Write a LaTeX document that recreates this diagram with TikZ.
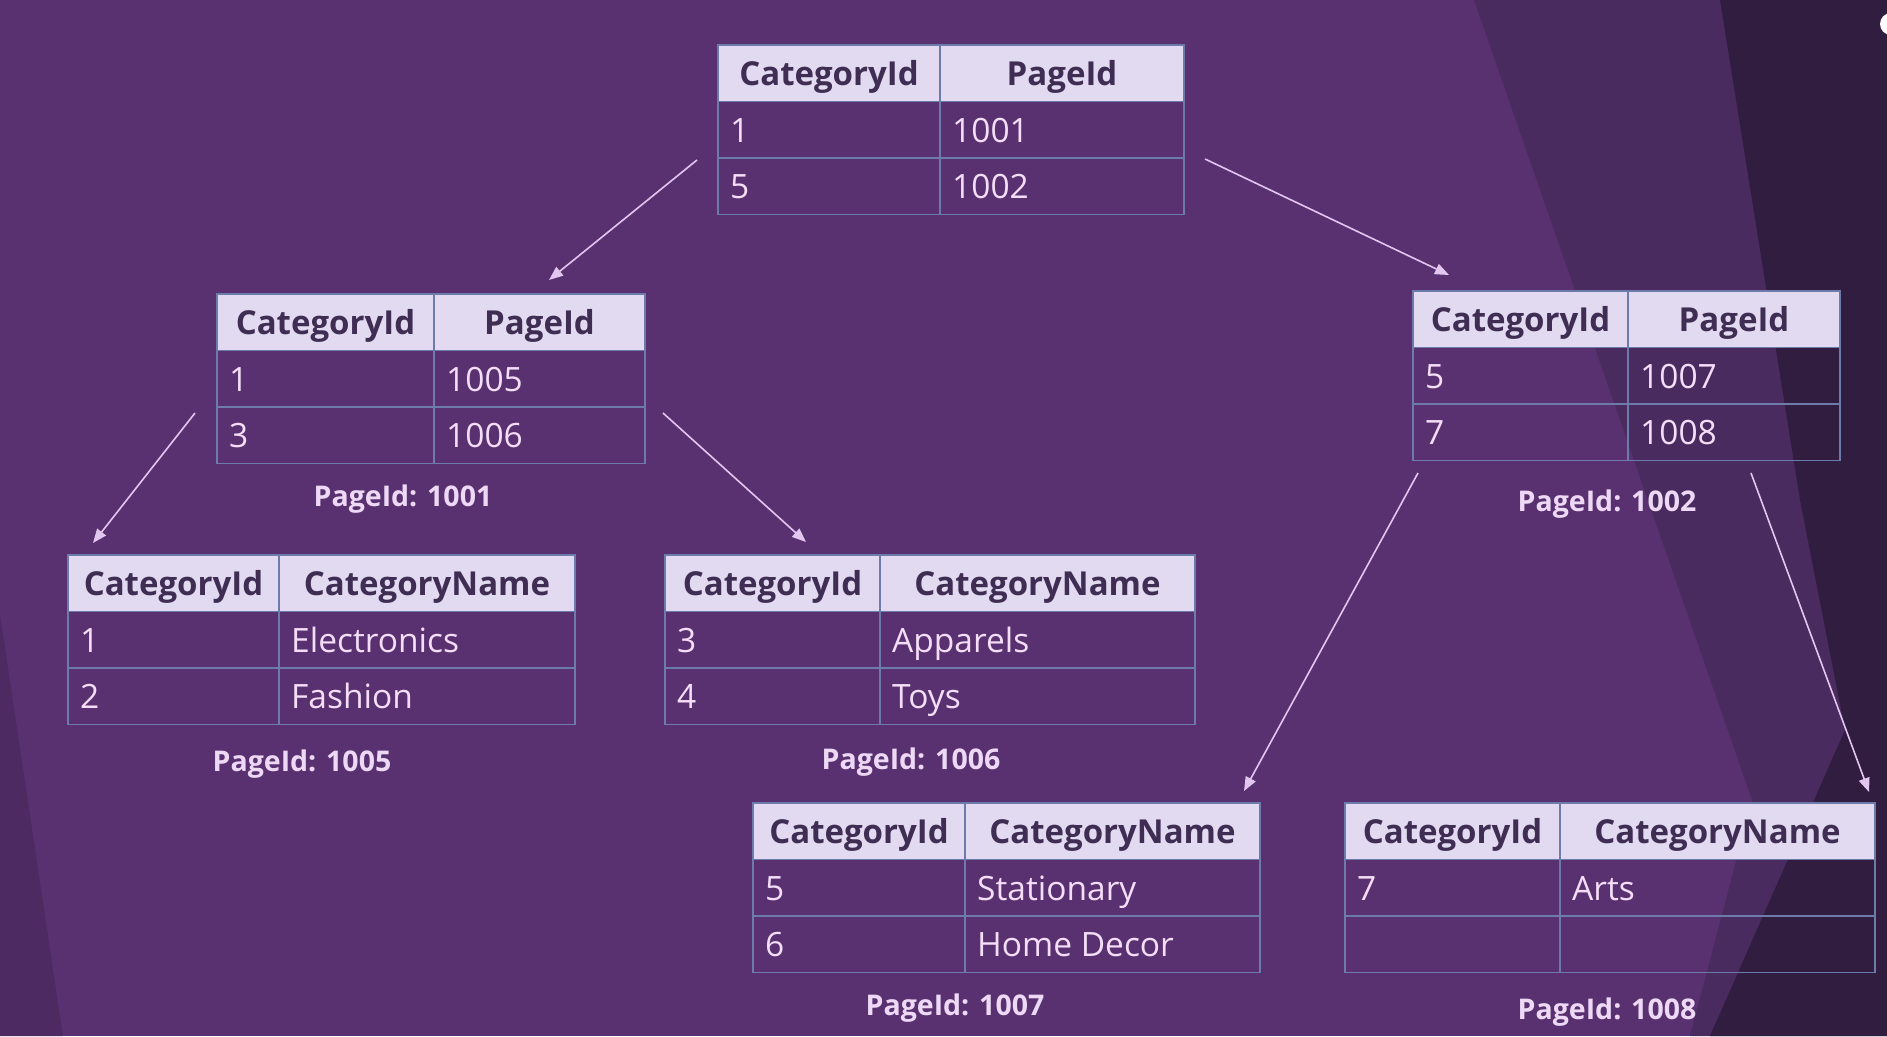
\documentclass[tikz,border=0pt]{standalone}
\usepackage{fontspec}
\setmainfont{Open Sans}
\usetikzlibrary{arrows.meta}
\definecolor{bgmain}{HTML}{5A3170}
\definecolor{bgmed}{HTML}{4A2B5F}
\definecolor{bgdark}{HTML}{301D3F}
\definecolor{bgleft}{HTML}{4E2A62}
\definecolor{hdfill}{HTML}{E2DAF0}
\definecolor{hdtext}{HTML}{3F2D54}
\definecolor{bodytext}{HTML}{F3DDF7}
\definecolor{lbltext}{HTML}{EDD9F5}
\definecolor{gridc}{HTML}{6D7BAA}
\definecolor{arrowc}{HTML}{E2C6F0}
\tikzset{
  gridln/.style={draw=gridc, line width=1.6pt},
  hdtxt/.style={font=\bfseries\fontsize{33}{38}\selectfont, text=hdtext, text height=23.5pt, text depth=0pt, inner sep=0pt, anchor=center},
  bodytxt/.style={font=\fontsize{33.5}{38}\selectfont, text=bodytext, text height=24pt, text depth=0pt, inner sep=0pt, anchor=west},
  lbl/.style={font=\bfseries\fontsize{28.5}{34}\selectfont, text=lbltext, text height=20.5pt, text depth=0pt, inner sep=0pt, anchor=center},
  arr/.style={draw=arrowc, line width=1.6pt, -{Triangle[length=14pt,width=11pt]}}
}
\newcommand\tbl[6]{% name, x1, xs, x2, ytop, second header
  \def\tn{#1}\def\tx{#2}\def\ts{#3}\def\ty{#5}%
  \fill[hdfill] (#2,#5) rectangle (#4,#5+56.5);
  \draw[gridln] (#2,#5) rectangle (#4,#5+169.5);
  \draw[gridln] (#2,#5+56.5) -- (#4,#5+56.5);
  \draw[gridln] (#2,#5+113) -- (#4,#5+113);
  \draw[gridln] (#3,#5) -- (#3,#5+169.5);
  \node[hdtxt] (#1-h1) at ({(#2+#3)/2},{#5+28.5}) {CategoryId};
  \node[hdtxt] (#1-h2) at ({(#3+#4)/2},{#5+28.5}) {#6};
}
\newcommand\rowa[2]{%
  \node[bodytxt] (\tn-a1) at ({\tx+12},{\ty+85}) {#1};
  \node[bodytxt] (\tn-b1) at ({\ts+12},{\ty+85}) {#2};
}
\newcommand\rowb[2]{%
  \node[bodytxt] (\tn-a2) at ({\tx+12},{\ty+141.5}) {#1};
  \node[bodytxt] (\tn-b2) at ({\ts+12},{\ty+141.5}) {#2};
}
\begin{document}
\begin{tikzpicture}[x=1pt,y=-1pt]
\useasboundingbox (0,0) rectangle (1887,1036);
% background
\fill[bgmain] (0,0) rectangle (1887,1036);
\fill[bgleft] (0,614) -- (63,1036) -- (0,1036) -- cycle;
\fill[bgmed] (1474,0) -- (1887,0) -- (1887,1036) -- (1690,1036) -- (1752,800) -- cycle;
\fill[bgdark] (1720,0) -- (1887,0) -- (1887,1036) -- (1710,1036) -- (1845,730) -- (1800,500) -- cycle;
\fill[white] (1891,24) circle (11);

% tables
\tbl{t0}{718}{940}{1184}{45}{PageId}
\rowa{1}{1001}
\rowb{5}{1002}

\tbl{t1}{217}{434}{645}{294}{PageId}
\rowa{1}{1005}
\rowb{3}{1006}

\tbl{t2}{1413}{1628}{1840}{291}{PageId}
\rowa{5}{1007}
\rowb{7}{1008}

\tbl{t3}{68}{279}{575}{555}{CategoryName}
\rowa{1}{Electronics}
\rowb{2}{Fashion}

\tbl{t4}{665}{880}{1195}{555}{CategoryName}
\rowa{3}{Apparels}
\rowb{4}{Toys}

\tbl{t5}{753}{965}{1260}{803}{CategoryName}
\rowa{5}{Stationary}
\rowb{6}{Home Decor}

\tbl{t6}{1345}{1560}{1875}{803}{CategoryName}
\rowa{7}{Arts}

% labels
\node[lbl] (l1001) at (403,496) {PageId: 1001};
\node[lbl] (l1002) at (1607,501) {PageId: 1002};
\node[lbl] (l1005) at (302,761) {PageId: 1005};
\node[lbl] (l1006) at (911,759) {PageId: 1006};
\node[lbl] (l1007) at (955,1005) {PageId: 1007};
\node[lbl] (l1008) at (1607,1009) {PageId: 1008};

% connectors
\coordinate (a1s) at (697,160); \coordinate (a1e) at (549,280);
\coordinate (a2s) at (1205,159); \coordinate (a2e) at (1449,275);
\coordinate (a3s) at (195,413); \coordinate (a3e) at (93,543);
\coordinate (a4s) at (663,413); \coordinate (a4e) at (806,542);
\coordinate (a5s) at (1418,473); \coordinate (a5e) at (1244,791);
\coordinate (a6s) at (1751,473); \coordinate (a6e) at (1869,792);
\draw[arr] (a1s) -- (a1e);
\draw[arr] (a2s) -- (a2e);
\draw[arr] (a3s) -- (a3e);
\draw[arr] (a4s) -- (a4e);
\draw[arr] (a5s) -- (a5e);
\draw[arr] (a6s) -- (a6e);
\end{tikzpicture}
\end{document}
